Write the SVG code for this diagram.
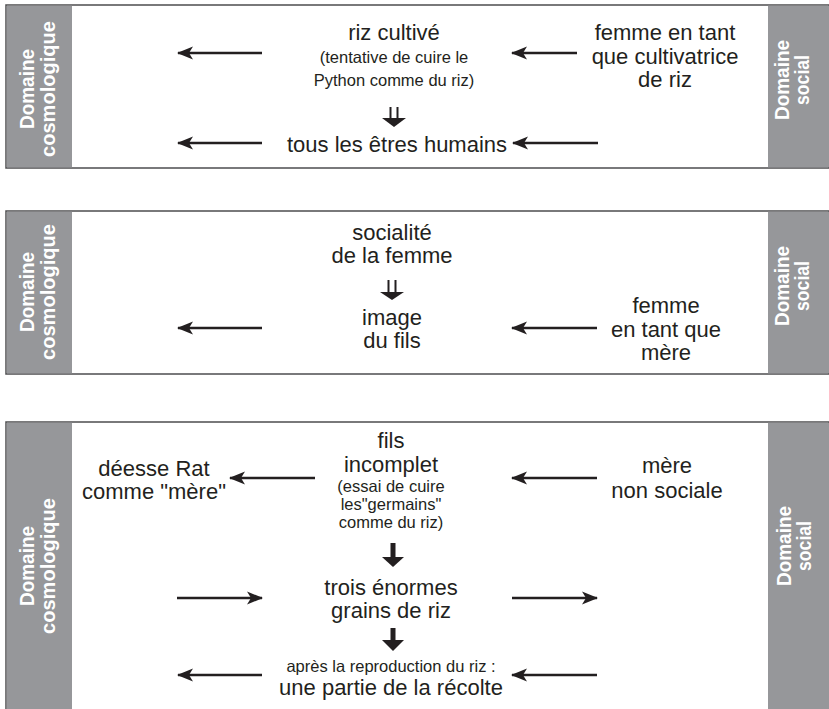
<svg xmlns="http://www.w3.org/2000/svg" width="829" height="709" viewBox="0 0 829 709">
<style>
.box{fill:#fff;stroke:#4d4d4f;stroke-width:1.5}
.strip{fill:#96979a}
.lab{font-family:"Liberation Sans",Arial,sans-serif;font-weight:bold;font-size:21px;fill:#fff;text-anchor:middle}
.t{font-family:"Liberation Sans",Arial,sans-serif;font-size:22px;fill:#231f20;text-anchor:middle}
.s{font-family:"Liberation Sans",Arial,sans-serif;font-size:16.5px;fill:#231f20;text-anchor:middle}
.ar{stroke:#231f20;stroke-width:2.6;fill:none;marker-end:url(#ah)}
.dl{stroke:#231f20;stroke-width:2}
.hd{fill:#231f20}
</style>
<defs>
<marker id="ah" markerUnits="userSpaceOnUse" markerWidth="18" markerHeight="14" refX="15" refY="7" orient="auto">
<path d="M0,0.5 L16,7 L0,13.5 L4,7 z" fill="#231f20"/>
</marker>
</defs>

<g id="panel1">
<rect class="box" x="6" y="5" width="823" height="163"/>
<rect class="strip" x="6.75" y="5.75" width="65.25" height="161.5"/>
<rect class="strip" x="768" y="5.75" width="61" height="161.5"/>
<g id="p1-cosmo"><text class="lab" transform="translate(34,89) rotate(-90)" textLength="80" lengthAdjust="spacingAndGlyphs">Domaine</text><text class="lab" transform="translate(55,89) rotate(-90)" textLength="136" lengthAdjust="spacingAndGlyphs">cosmologique</text></g>
<g id="p1-social"><text class="lab" transform="translate(789,80) rotate(-90)" textLength="80" lengthAdjust="spacingAndGlyphs">Domaine</text><text class="lab" transform="translate(809,80) rotate(-90)" textLength="50" lengthAdjust="spacingAndGlyphs">social</text></g>
<g id="p1-riz"><text class="t" x="394" y="40">riz cultivé</text><text class="s" x="394" y="63">(tentative de cuire le</text><text class="s" x="394" y="86">Python comme du riz)</text></g>
<g id="p1-femme"><text class="t" x="665" y="40">femme en tant</text><text class="t" x="665" y="63.5">que cultivatrice</text><text class="t" x="665" y="87">de riz</text></g>
<g id="p1-humains"><text class="t" x="397" y="152">tous les êtres humains</text></g>
</g>

<g id="panel2">
<rect class="box" x="6" y="211" width="823" height="163"/>
<rect class="strip" x="6.75" y="211.75" width="65.25" height="161.5"/>
<rect class="strip" x="768" y="211.75" width="61" height="161.5"/>
<g id="p2-cosmo"><text class="lab" transform="translate(34,292) rotate(-90)" textLength="80" lengthAdjust="spacingAndGlyphs">Domaine</text><text class="lab" transform="translate(55,292) rotate(-90)" textLength="136" lengthAdjust="spacingAndGlyphs">cosmologique</text></g>
<g id="p2-social"><text class="lab" transform="translate(789,286) rotate(-90)" textLength="80" lengthAdjust="spacingAndGlyphs">Domaine</text><text class="lab" transform="translate(809,286) rotate(-90)" textLength="50" lengthAdjust="spacingAndGlyphs">social</text></g>
<g id="p2-socialite"><text class="t" x="392" y="240">socialité</text><text class="t" x="392" y="263">de la femme</text></g>
<g id="p2-image"><text class="t" x="392" y="325">image</text><text class="t" x="392" y="348">du fils</text></g>
<g id="p2-mere"><text class="t" x="666" y="313">femme</text><text class="t" x="666" y="337">en tant que</text><text class="t" x="666" y="360">mère</text></g>
</g>

<g id="panel3">
<rect class="box" x="6" y="422" width="823" height="300"/>
<rect class="strip" x="6.75" y="422.75" width="65.25" height="290"/>
<rect class="strip" x="768" y="422.75" width="61" height="290"/>
<g id="p3-cosmo"><text class="lab" transform="translate(34,566) rotate(-90)" textLength="80" lengthAdjust="spacingAndGlyphs">Domaine</text><text class="lab" transform="translate(55,566) rotate(-90)" textLength="136" lengthAdjust="spacingAndGlyphs">cosmologique</text></g>
<g id="p3-social"><text class="lab" transform="translate(791,546) rotate(-90)" textLength="80" lengthAdjust="spacingAndGlyphs">Domaine</text><text class="lab" transform="translate(811,546) rotate(-90)" textLength="50" lengthAdjust="spacingAndGlyphs">social</text></g>
<g id="p3-deesse"><text class="t" x="154" y="476">déesse Rat</text><text class="t" x="154" y="499">comme "mère"</text></g>
<g id="p3-fils"><text class="t" x="391" y="448">fils</text><text class="t" x="391" y="472">incomplet</text><text class="s" x="391" y="492">(essai de cuire</text><text class="s" x="391" y="510">les"germains"</text><text class="s" x="391" y="528">comme du riz)</text></g>
<g id="p3-merens"><text class="t" x="667" y="473">mère</text><text class="t" x="667" y="498">non sociale</text></g>
<g id="p3-grains"><text class="t" x="391" y="595">trois énormes</text><text class="t" x="391" y="618">grains de riz</text></g>
<g id="p3-recolte"><text class="s" x="391" y="672">après la reproduction du riz :</text><text class="t" x="391" y="695">une partie de la récolte</text></g>
</g>

<g id="connectors">
<line class="ar" x1="262" y1="53" x2="178" y2="53"/>
<line class="ar" x1="577" y1="53" x2="512" y2="53"/>
<line class="ar" x1="262" y1="143" x2="178" y2="143"/>
<line class="ar" x1="598" y1="143" x2="513" y2="143"/>
<line class="dl" x1="390.5" y1="107" x2="390.5" y2="119"/>
<line class="dl" x1="397.5" y1="107" x2="397.5" y2="119"/>
<path class="hd" d="M382,118 L406,118 L394,127 z"/>

<line class="ar" x1="262" y1="328" x2="178" y2="328"/>
<line class="ar" x1="597" y1="328" x2="512" y2="328"/>
<line class="dl" x1="388.5" y1="280" x2="388.5" y2="293"/>
<line class="dl" x1="395.5" y1="280" x2="395.5" y2="293"/>
<path class="hd" d="M380,292 L404,292 L392,300 z"/>

<line class="ar" x1="315" y1="478" x2="230" y2="478"/>
<line class="ar" x1="597" y1="478" x2="512" y2="478"/>
<line class="ar" x1="177" y1="598" x2="262" y2="598"/>
<line class="ar" x1="512" y1="598" x2="597" y2="598"/>
<line class="ar" x1="262" y1="675" x2="178" y2="675"/>
<line class="ar" x1="597" y1="675" x2="512" y2="675"/>
<rect class="hd" x="390.5" y="543" width="5" height="15"/>
<path class="hd" d="M382,557 L404,557 L393,567 z"/>
<rect class="hd" x="390.5" y="628" width="5" height="13"/>
<path class="hd" d="M382,640 L404,640 L393,651 z"/>
</g>
</svg>
